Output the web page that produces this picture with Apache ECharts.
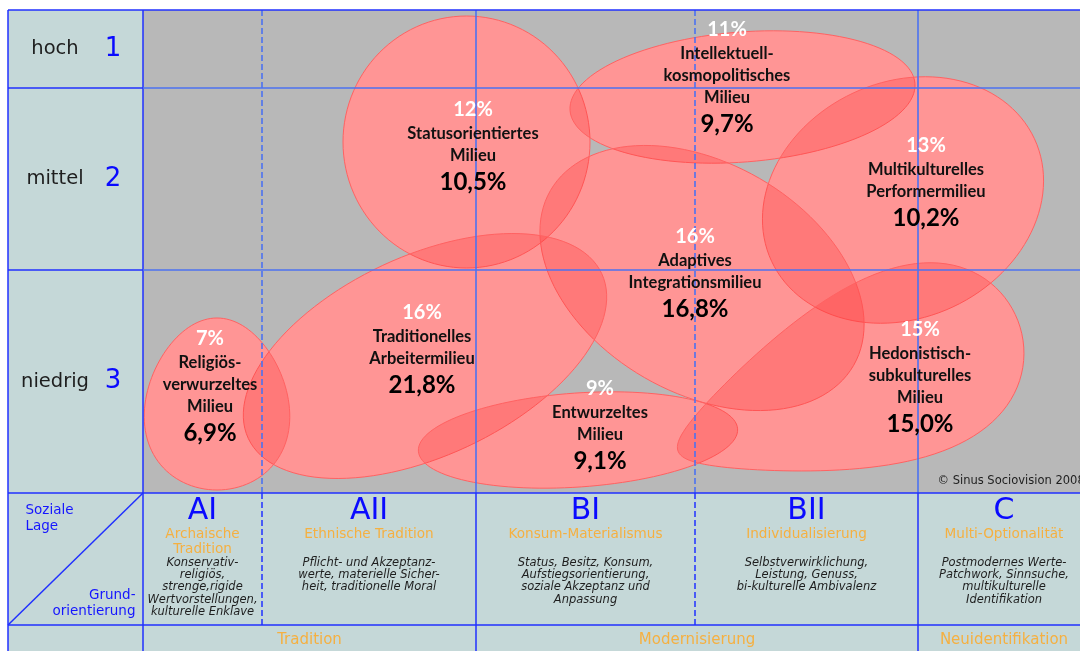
<!DOCTYPE html>
<html>
<head>
<meta charset="utf-8">
<script src="https://cdn.jsdelivr.net/npm/echarts@6/dist/echarts.min.js"></script>
<style>
  html, body { margin: 0; padding: 0; background: #fff; }
  #chart { width: 1080px; height: 651px; }
</style>
</head>
<body>
<div id="chart"></div>
<script>
// grid units: x 0..107.2, y 0..64.1 (one unit = 10px)
const rowNames = ['hoch', 'mittel', 'niedrig'];
const rowNums = ['1', '2', '3'];
const rowBounds = [0, 7.8, 26.0, 48.3];
const headerBottom = 61.5;
const tableBottom = 66;
const labelColRight = 13.5;

const colCodes = ['AI', 'AII', 'BI', 'BII', 'C'];
const colTitles = [
  ['Archaische', 'Tradition'],
  ['Ethnische Tradition'],
  ['Konsum-Materialismus'],
  ['Individualisierung'],
  ['Multi-Optionalität'],
];
const colTexts = [
  ['Konservativ-', 'religiös,', 'strenge,rigide', 'Wertvorstellungen,', 'kulturelle Enklave'],
  ['Pflicht- und Akzeptanz-', 'werte, materielle Sicher-', 'heit, traditionelle Moral'],
  ['Status, Besitz, Konsum,', 'Aufstiegsorientierung,', 'soziale Akzeptanz und', 'Anpassung'],
  ['Selbstverwirklichung,', 'Leistung, Genuss,', 'bi-kulturelle Ambivalenz'],
  ['Postmodernes Werte-', 'Patchwork, Sinnsuche,', 'multikulturelle', 'Identifikation'],
];
const colBounds = [13.5, 25.4, 46.8, 68.7, 91.0, 108.2];
const dashedCols = [1, 3]; // AI|AII and BI|BII are dashed
const groupNames = ['Tradition', 'Modernisierung', 'Neuidentifikation'];
const groupSpans = [[0, 2], [2, 4], [4, 5]];

// milieus
const milieuNames = [
  ['Statusorientiertes', 'Milieu'],
  ['Intellektuell-', 'kosmopolitisches', 'Milieu'],
  ['Multikulturelles', 'Performermilieu'],
  ['Adaptives', 'Integrationsmilieu'],
  ['Traditionelles', 'Arbeitermilieu'],
  ['Religiös-', 'verwurzeltes', 'Milieu'],
  ['Entwurzeltes', 'Milieu'],
  ['Hedonistisch-', 'subkulturelles', 'Milieu'],
];
const milieuPotential = ['12%', '11%', '13%', '16%', '16%', '7%', '9%', '15%'];
const milieuShare = ['10,5%', '9,7%', '10,2%', '16,8%', '21,8%', '6,9%', '9,1%', '15,0%'];
const blobX = [45.85, 73.45, 89.5, 69.4, 41.7, 20.9, 57.0, 84.0];
const blobY = [13.2, 8.7, 19.0, 26.8, 34.6, 39.4, 43.0, 37.6];
const blobRX = [12.35, 17.3, 14.5, 17.5, 19.5, 8.6, 16.0, 18.2];
const blobRY = [12.6, 6.5, 11.8, 11.5, 10.0, 7.2, 4.7, 8.6];
const blobTilt = [0, -4.5, -25, 30, -25, 90, -4, -21];
const blobTaper = [0, 0, 0, 0, 0, 0.15, 0, 0.5];
const labelX = [46.5, 71.9, 91.8, 68.7, 41.4, 20.2, 59.2, 91.2];
const labelY = [13.7, 6.8, 17.3, 26.4, 34.0, 37.7, 41.6, 36.8];

const FONT = 'DejaVu Sans';
const BLOB_FONT = 'Lato';

const chart = echarts.init(document.getElementById('chart'));

// line segments [x1, y1, x2, y2, kind]; kind: 0 frame, 1 inner, 2 inner dashed, 3 frame dashed
const plotBottom = rowBounds[rowBounds.length - 1];
const right = colBounds[colBounds.length - 1];
const segments = [];
segments.push([0, 0, 0, tableBottom, 0]);
segments.push([labelColRight, 0, labelColRight, tableBottom, 0]);
colBounds.slice(1, -1).forEach((x, i) => {
  const dashed = dashedCols.indexOf(i + 1) >= 0;
  segments.push([x, 0, x, plotBottom, dashed ? 2 : 1]);
  segments.push([x, plotBottom, x, dashed ? headerBottom : tableBottom, dashed ? 3 : 0]);
});
segments.push([0, 0, right, 0, 0]);
rowBounds.slice(1, -1).forEach((y) => {
  segments.push([0, y, labelColRight, y, 0]);
  segments.push([labelColRight, y, right, y, 1]);
});
segments.push([0, plotBottom, right, plotBottom, 0]);
segments.push([0, headerBottom, right, headerBottom, 0]);
segments.push([labelColRight, plotBottom, 0, headerBottom, 0]);

const lineStyles = [
  { stroke: '#2030ff', lineWidth: 1.5 },
  { stroke: '#4c72f0', lineWidth: 1.6 },
  { stroke: '#4c72f0', lineWidth: 1.6, lineDash: [6, 3] },
  { stroke: '#2030ff', lineWidth: 1.5, lineDash: [6, 3] },
];

const blobData = blobX.map((x, i) => [x, blobY[i], blobRX[i], blobRY[i], blobTilt[i], blobTaper[i]]);

function blobShape(api) {
  const c = api.coord([api.value(0), api.value(1)]);
  const r = api.size([api.value(2), api.value(3)]);
  const a = api.value(4) * Math.PI / 180;
  const k = api.value(5);
  const pts = [];
  for (let j = 0; j < 120; j++) {
    const t = (j / 120) * Math.PI * 2;
    const lx = r[0] * Math.cos(t);
    const ly = r[1] * Math.sin(t) * (1 + k * Math.cos(t));
    pts.push([
      c[0] + lx * Math.cos(a) - ly * Math.sin(a),
      c[1] + lx * Math.sin(a) + ly * Math.cos(a),
    ]);
  }
  return { points: pts };
}

function textSeries(name, data, label, z) {
  return {
    name,
    type: 'scatter',
    z: z || 10,
    silent: true,
    symbolSize: 1,
    itemStyle: { color: 'rgba(0,0,0,0)', opacity: 1 },
    data,
    label: Object.assign({ show: true, position: 'inside' }, label),
  };
}

const colMid = colCodes.map((_, i) => (colBounds[i] + colBounds[i + 1]) / 2);
const rowMid = rowNames.map((_, i) => (rowBounds[i] + rowBounds[i + 1]) / 2);

chart.setOption({
  backgroundColor: '#ffffff',
  animation: false,
  grid: { left: 8, top: 10, right: 0, bottom: 0, show: false, outerBoundsMode: 'none' },
  xAxis: { type: 'value', min: 0, max: 107.2, show: false },
  yAxis: { type: 'value', min: 0, max: 64.1, inverse: true, show: false },
  series: [
    {
      name: 'cells',
      type: 'custom',
      z: 1,
      silent: true,
      encode: { x: [0, 2], y: [1, 3] },
      data: [
        [0, 0, right, tableBottom],
        [labelColRight, 0, right, plotBottom],
      ],
      renderItem(params, api) {
        const p0 = api.coord([api.value(0), api.value(1)]);
        const p1 = api.coord([api.value(2), api.value(3)]);
        return {
          type: 'rect',
          shape: { x: p0[0], y: p0[1], width: p1[0] - p0[0], height: p1[1] - p0[1] },
          style: { fill: params.dataIndex === 0 ? '#c5d8d8' : '#b8b8b8' },
        };
      },
    },
    {
      name: 'milieu-base',
      type: 'custom',
      z: 2,
      silent: true,
      encode: { x: 0, y: 1 },
      data: blobData,
      renderItem(params, api) {
        return { type: 'polygon', shape: blobShape(api), style: { fill: '#ffbebe' } };
      },
    },
    {
      name: 'milieu-tint',
      type: 'custom',
      z: 3,
      silent: true,
      encode: { x: 0, y: 1 },
      data: blobData,
      renderItem(params, api) {
        return {
          type: 'polygon',
          shape: blobShape(api),
          style: { fill: 'rgba(255,57,57,0.3)', stroke: '#ff6262', lineWidth: 1 },
        };
      },
    },
    {
      name: 'lines',
      type: 'custom',
      z: 4,
      silent: true,
      encode: { x: [0, 2], y: [1, 3] },
      data: segments,
      renderItem(params, api) {
        const p0 = api.coord([api.value(0), api.value(1)]);
        const p1 = api.coord([api.value(2), api.value(3)]);
        return {
          type: 'line',
          shape: { x1: p0[0], y1: p0[1], x2: p1[0], y2: p1[1] },
          style: Object.assign({}, lineStyles[api.value(4)]),
        };
      },
    },
    textSeries('milieu-labels', labelX.map((x, i) => [x, labelY[i]]), {
      formatter: (p) => {
        const i = p.dataIndex;
        return [`{p|${milieuPotential[i]}}`]
          .concat(milieuNames[i].map((n) => `{n|${n}}`))
          .concat([`{v|${milieuShare[i]}}`])
          .join('\n');
      },
      align: 'center',
      verticalAlign: 'middle',
      rich: {
        p: { fontFamily: BLOB_FONT, fontWeight: 'bold', fontSize: 20, lineHeight: 26, color: '#ffffff' },
        n: { fontFamily: BLOB_FONT, fontWeight: 'bold', fontSize: 16.5, lineHeight: 22, color: '#111111' },
        v: { fontFamily: BLOB_FONT, fontWeight: 'bold', fontSize: 24, lineHeight: 30, color: '#000000' },
      },
    }, 20),
    textSeries('row-names', rowMid.map((y) => [4.7, y]), {
      formatter: (p) => rowNames[p.dataIndex],
      fontFamily: FONT, fontSize: 19.5, color: '#1e1e1e',
    }),
    textSeries('row-nums', rowMid.map((y) => [10.5, y]), {
      formatter: (p) => rowNums[p.dataIndex],
      fontFamily: FONT, fontSize: 26, color: '#0a0aff',
    }),
    textSeries('col-heads', colMid.map((x) => [x, plotBottom + 0.3]), {
      position: 'bottom',
      distance: 0,
      align: 'center',
      verticalAlign: 'top',
      formatter: (p) => {
        const i = p.dataIndex;
        const titles = colTitles[i].map((t) => `{o|${t}}`);
        if (titles.length < 2) titles.push('{o| }');
        return [`{c|${colCodes[i]}}`]
          .concat(titles)
          .concat(colTexts[i].map((t) => `{d|${t}}`))
          .join('\n');
      },
      rich: {
        c: { fontFamily: FONT, fontSize: 30, lineHeight: 30, color: '#0a0aff' },
        o: { fontFamily: FONT, fontSize: 13.6, lineHeight: 15, color: '#f5b041' },
        d: { fontFamily: FONT, fontSize: 11.5, fontStyle: 'italic', lineHeight: 12.4, color: '#1e1e1e' },
      },
    }),
    textSeries('groups', groupSpans.map((s) => [(colBounds[s[0]] + colBounds[s[1]]) / 2, 63.0]), {
      formatter: (p) => groupNames[p.dataIndex],
      fontFamily: FONT, fontSize: 15, color: '#f5b041',
    }),
    textSeries('axis-names', [
      { value: [1.7, 50.8], label: { position: 'right', align: 'left', distance: 0 } },
      { value: [12.8, 59.3], label: { position: 'left', align: 'right', distance: 0 } },
    ], {
      formatter: (p) => (p.dataIndex === 0 ? 'Soziale\nLage' : 'Grund-\norientierung'),
      fontFamily: FONT, fontSize: 13.5, lineHeight: 16, color: '#1515ff',
    }),
    textSeries('copyright', [[92.9, 47.1]], {
      formatter: '© Sinus Sociovision 2008',
      position: 'right',
      distance: 0,
      fontFamily: FONT, fontSize: 11.5, color: '#1e1e1e',
    }),
  ],
});
</script>
</body>
</html>
